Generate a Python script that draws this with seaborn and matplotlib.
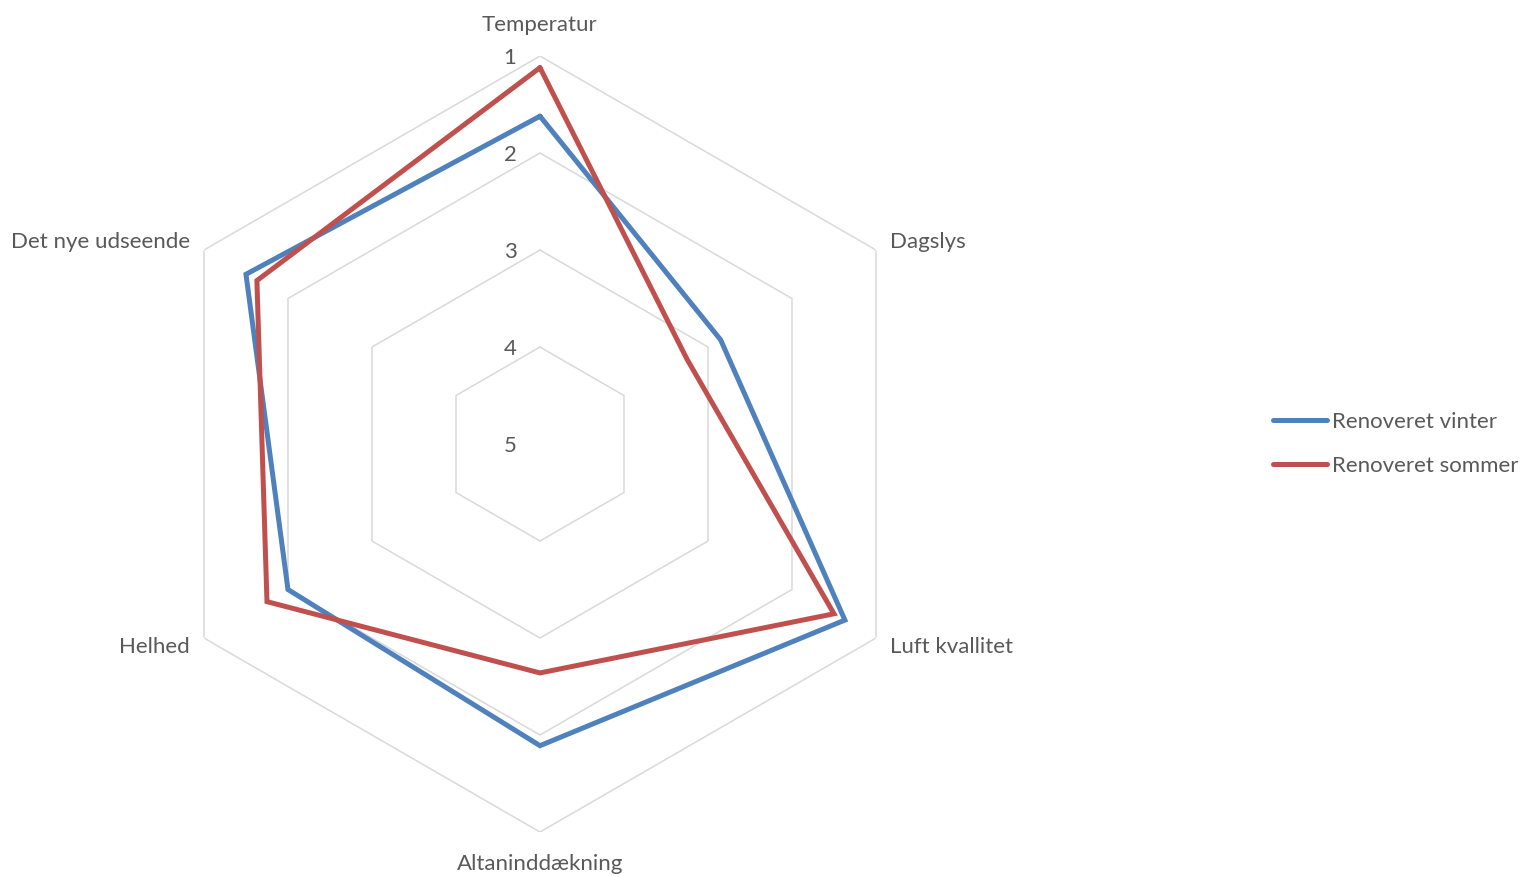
import numpy as np
import pandas as pd
import matplotlib
matplotlib.use("Agg")
import matplotlib.pyplot as plt
from matplotlib.transforms import offset_copy
from matplotlib.lines import Line2D
import seaborn as sns

# data (scale 1-5, 1 on the outside)
categories = ["Temperatur", "Dagslys", "Luft kvallitet", "Altaninddækning", "Helhed", "Det nye udseende"]
vinter = [1.62, 2.85, 1.37, 1.89, 2.0, 1.5]
sommer = [1.12, 3.25, 1.5, 2.64, 1.75, 1.63]
series_names = ["Renoveret vinter", "Renoveret sommer"]
ring_levels = [1, 2, 3, 4, 5]

sns.set_theme(style="white")
plt.rcParams["font.family"] = ["Lato", "DejaVu Sans"]

blue = "#4F81BD"
red = "#C0504D"
grid_col = "#D9D9D9"
text_col = "#595959"

n = len(categories)
angles = np.linspace(0, 2 * np.pi, n, endpoint=False)
closed = np.append(angles, angles[0] + 2 * np.pi)

# long table for seaborn
rows = []
for name, vals in zip(series_names, [vinter, sommer]):
    vv = list(vals) + [vals[0]]
    for i, (t, v) in enumerate(zip(closed, vv)):
        rows.append({"serie": name, "theta": t, "value": v, "order": i})
df = pd.DataFrame(rows)

fig = plt.figure(figsize=(15.23, 8.77), dpi=100)
ax = fig.add_axes([0.0998, 0.0513, 0.5095, 0.8848], projection="polar")
ax.set_theta_zero_location("N")
ax.set_theta_direction(-1)

# hexagon grid
for lvl in ring_levels[:-1]:
    ax.plot(closed, [lvl] * len(closed), color=grid_col, lw=1.1, zorder=1)

sns.lineplot(data=df, x="theta", y="value", hue="serie", sort=False, estimator=None,
             palette=[blue, red], linewidth=3.6, legend=False, ax=ax, zorder=3)
for ln in ax.get_lines()[-2:]:
    ln.set_solid_joinstyle("miter")

ax.set_ylim(5, 1)
ax.grid(False)
ax.spines["polar"].set_visible(False)
ax.set_xticks([])
ax.set_yticks([])
ax.set_xlabel("")
ax.set_ylabel("")

# radial labels
for lvl in ring_levels:
    tr = offset_copy(ax.transData, fig=fig, x=-30, y=-2, units="dots")
    ax.text(0, lvl, str(lvl), transform=tr, ha="center", va="center",
            fontsize=16, color=text_col)

# category labels
offsets = [(0, 31, "center"), (14, 8, "left"), (14, -9, "left"),
           (0, -32, "center"), (-14, -9, "right"), (-14, 8, "right")]
for ang, lab, (dx, dy, ha) in zip(angles, categories, offsets):
    tr = offset_copy(ax.transData, fig=fig, x=dx, y=dy, units="dots")
    ax.text(ang, 1, lab, transform=tr, ha=ha, va="center", fontsize=16, color=text_col)

handles = [Line2D([], [], color=blue, lw=3.6, solid_capstyle="round"),
           Line2D([], [], color=red, lw=3.6, solid_capstyle="round")]
fig.legend(handles, series_names, loc="center left", bbox_to_anchor=(0.836, 0.494),
           frameon=False, fontsize=16, labelcolor=text_col, handlelength=2.4,
           handletextpad=0.25, labelspacing=1.08, borderpad=0, borderaxespad=0)

fig.savefig("out.png", dpi=100)
